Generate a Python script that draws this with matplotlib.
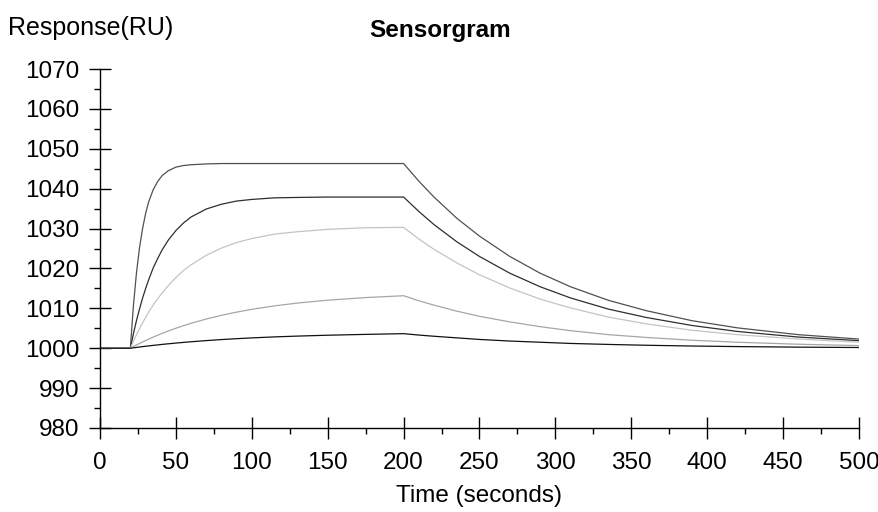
import matplotlib.pyplot as plt
from matplotlib.ticker import MultipleLocator

plt.rcParams['font.family'] = ['Liberation Sans', 'DejaVu Sans']

# time points (s) and responses (RU above the 1000 baseline)
times = [0, 20, 22, 24, 26, 28, 30, 32, 35, 38, 41, 45, 50, 55, 60, 70, 80, 90, 100,
         115, 130, 150, 175, 200, 210, 220, 235, 250, 270, 290, 310, 335, 360, 390,
         420, 460, 500]

curve1 = [0, 0, 10.6, 18.8, 25.1, 29.9, 33.7, 36.6, 39.7, 41.8, 43.3, 44.5, 45.4, 45.8,
          46.0, 46.2, 46.3, 46.3, 46.3, 46.3, 46.3, 46.3, 46.3, 46.3, 41.9, 37.9, 32.6,
          28.1, 23.0, 18.8, 15.4, 12.0, 9.4, 6.9, 5.1, 3.4, 2.3]
curve2 = [0, 0, 3.6, 6.9, 9.8, 12.5, 14.9, 17.1, 20.1, 22.5, 24.7, 27.1, 29.5, 31.4,
          32.9, 34.9, 36.1, 36.9, 37.3, 37.7, 37.8, 37.9, 37.9, 37.9, 34.3, 31.0, 26.7,
          23.0, 18.8, 15.4, 12.6, 9.8, 7.7, 5.7, 4.2, 2.8, 1.9]
curve3 = [0, 0, 1.7, 3.4, 4.9, 6.3, 7.7, 9.0, 10.8, 12.4, 13.9, 15.7, 17.7, 19.5, 20.9,
          23.3, 25.1, 26.5, 27.5, 28.6, 29.2, 29.8, 30.2, 30.3, 27.4, 24.8, 21.4, 18.4,
          15.1, 12.3, 10.1, 7.8, 6.1, 4.5, 3.4, 2.3, 1.5]
curve4 = [0, 0, 0.41, 0.80, 1.18, 1.56, 1.92, 2.27, 2.78, 3.26, 3.73, 4.32, 5.01, 5.65,
          6.25, 7.32, 8.25, 9.05, 9.75, 10.62, 11.32, 12.04, 12.70, 13.16, 11.9, 10.8,
          9.3, 8.0, 6.6, 5.4, 4.4, 3.4, 2.7, 2.0, 1.5, 1.0, 0.66]
curve5 = [0, 0, 0.10, 0.20, 0.30, 0.40, 0.49, 0.58, 0.71, 0.83, 0.96, 1.11, 1.29, 1.46,
          1.62, 1.91, 2.17, 2.39, 2.59, 2.84, 3.04, 3.26, 3.47, 3.65, 3.3, 3.0, 2.6, 2.2,
          1.8, 1.5, 1.2, 0.95, 0.74, 0.55, 0.41, 0.27, 0.18]

baseline = 1000
curves = [curve1, curve2, curve3, curve4, curve5]
colors = ['#505050', '#2e2e2e', '#c4c4c4', '#a6a6a6', '#111111']

fig = plt.figure(figsize=(8.79, 5.12), dpi=100)
ax = fig.add_axes([100 / 879, 1 - 428 / 512, 759 / 879, 359 / 512])

for vals, c in zip(curves, colors):
    ax.plot(times, [baseline + v for v in vals], color=c, linewidth=0.9)

ax.set_xlim(0, 500)
ax.set_ylim(980, 1070)
ax.xaxis.set_major_locator(MultipleLocator(50))
ax.xaxis.set_minor_locator(MultipleLocator(25))
ax.yaxis.set_major_locator(MultipleLocator(10))
ax.yaxis.set_minor_locator(MultipleLocator(5))

for side in ['top', 'right']:
    ax.spines[side].set_visible(False)
for side in ['left', 'bottom']:
    ax.spines[side].set_linewidth(1.0)

ax.tick_params(which='major', direction='inout', length=16, width=1.0, labelsize=17.5)
ax.tick_params(axis='y', which='major', pad=7)
ax.tick_params(axis='x', which='major', pad=9)
ax.tick_params(which='minor', direction='out', length=4, width=1.0)

ax.set_xlabel('Time (seconds)', fontsize=17.5, labelpad=8)
fig.text(8 / 879, 1 - 28 / 512, 'Response(RU)', fontsize=18, ha='left', va='center')
fig.text(440 / 879, 1 - 30 / 512, 'Sensorgram', fontsize=17.5, fontweight='bold',
         ha='center', va='center')

fig.savefig('out.png', dpi=100)
